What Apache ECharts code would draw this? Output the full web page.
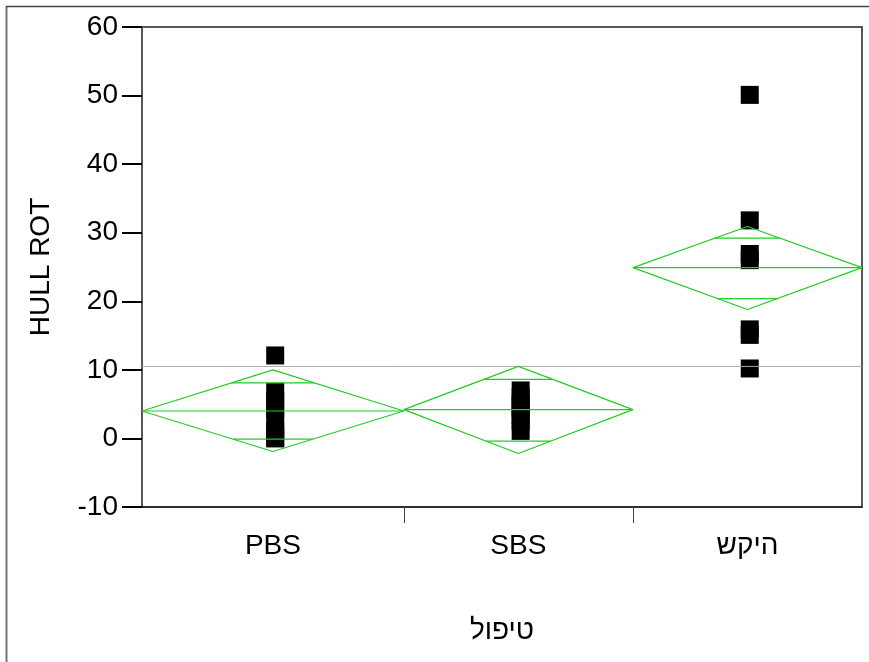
<!DOCTYPE html>
<html>
<head>
<meta charset="utf-8">
<title>HULL ROT</title>
<script src="https://cdn.jsdelivr.net/npm/echarts@6/dist/echarts.min.js"></script>
<style>
    * { margin: 0; padding: 0; }
    body { background: #fff; }
    #chart { width: 869px; height: 662px; }
</style>
</head>
<body>
<div id="chart"></div>
<script>
    // groups and sample counts (widths of the diamonds follow n)
    var groups = ['PBS', 'SBS', 'היקש'];
    var counts = [8, 7, 7];

    // raw points per group
    var valsPBS = [12.1, 6.8, 5.5, 4.3, 2.6, 1.0, 0.2, 0.0];
    var valsSBS = [7.0, 6.0, 5.0, 4.5, 3.5, 2.5, 1.1];
    var valsHikesh = [50.1, 31.8, 26.9, 26.0, 15.9, 15.1, 10.2];

    // means diamonds
    var means = [4.0, 4.2, 24.9];
    var ciHi = [10.0, 10.5, 30.9];
    var ciLo = [-1.9, -2.2, 18.8];
    var overlapHi = [8.1, 8.6, 29.2];
    var overlapLo = [-0.1, -0.4, 20.4];
    var grandMean = 10.5;

    var yTicks = [-10, 0, 10, 20, 30, 40, 50, 60];

    var green = '#22cc22';

    // group bounds on the x scale from counts
    var starts = [], ends = [], centers = [];
    var acc = 0;
    counts.forEach(function (n) {
        starts.push(acc);
        ends.push(acc + n);
        centers.push(acc + n / 2);
        acc += n;
    });
    var total = acc;

    var series = [];

    // grand mean line
    series.push({
        type: 'line', symbol: 'none', silent: true,
        lineStyle: { color: '#aaaaaa', width: 1 },
        data: [[0, grandMean], [total, grandMean]]
    });

    groups.forEach(function (g, i) {
        var x0 = starts[i], x1 = ends[i], xc = centers[i], half = (x1 - x0) / 2;
        // diamond outline
        series.push({
            type: 'line', symbol: 'none', silent: true,
            lineStyle: { color: green, width: 1.2 },
            data: [[x0, means[i]], [xc, ciHi[i]], [x1, means[i]], [xc, ciLo[i]], [x0, means[i]]]
        });
        // mean line
        series.push({
            type: 'line', symbol: 'none', silent: true,
            lineStyle: { color: green, width: 1.2 },
            data: [[x0, means[i]], [x1, means[i]]]
        });
        // overlap marks: chords of the diamond
        var fHi = (ciHi[i] - overlapHi[i]) / (ciHi[i] - means[i]) * half;
        var fLo = (overlapLo[i] - ciLo[i]) / (means[i] - ciLo[i]) * half;
        series.push({
            type: 'line', symbol: 'none', silent: true,
            lineStyle: { color: green, width: 1.2 },
            data: [[xc - fHi, overlapHi[i]], [xc + fHi, overlapHi[i]]]
        });
        series.push({
            type: 'line', symbol: 'none', silent: true,
            lineStyle: { color: green, width: 1.2 },
            data: [[xc - fLo, overlapLo[i]], [xc + fLo, overlapLo[i]]]
        });
    });

    // points
    [valsPBS, valsSBS, valsHikesh].forEach(function (vals, i) {
        series.push({
            type: 'scatter',
            symbol: 'rect',
            symbolSize: 18,
            itemStyle: { color: '#000', opacity: 1 },
            data: vals.map(function (v) { return [centers[i] + 0.07, v]; })
        });
    });

    var option = {
        backgroundColor: '#fff',
        animation: false,
        textStyle: { fontFamily: 'Liberation Sans, Arial, DejaVu Sans, sans-serif' },
        graphic: [
            { type: 'line', shape: { x1: 6.5, y1: 6, x2: 6.5, y2: 662 }, style: { stroke: '#777', lineWidth: 2 } },
            { type: 'line', shape: { x1: 6, y1: 6.5, x2: 869, y2: 6.5 }, style: { stroke: '#444', lineWidth: 1.5 } }
        ],
        grid: {
            left: 142, right: 7, top: 27, bottom: 155,
            show: true, borderColor: '#222', borderWidth: 1.5, backgroundColor: 'transparent'
        },
        xAxis: {
            type: 'value',
            min: 0, max: total,
            name: 'טיפול',
            nameLocation: 'middle',
            nameGap: 110,
            nameTextStyle: { fontSize: 28, color: '#000' },
            splitLine: { show: false },
            axisLine: { show: true, onZero: false, lineStyle: { color: '#222', width: 1.5 } },
            axisTick: {
                show: true, length: 16, inside: false,
                customValues: [ends[0], ends[1]],
                lineStyle: { color: '#444', width: 1 }
            },
            axisLabel: {
                show: true, fontSize: 28, color: '#000', margin: 25,
                customValues: centers,
                formatter: function (v) {
                    for (var k = 0; k < centers.length; k++) {
                        if (Math.abs(centers[k] - v) < 1e-6) return groups[k];
                    }
                    return '';
                }
            }
        },
        yAxis: {
            type: 'value',
            min: -10, max: 60, interval: 10,
            name: 'HULL ROT',
            nameLocation: 'middle',
            nameRotate: 90,
            nameGap: 87,
            nameTextStyle: { fontSize: 28, color: '#000' },
            splitLine: { show: false },
            axisLine: { show: true, lineStyle: { color: '#555', width: 1 } },
            axisTick: { show: true, length: 20, inside: false, lineStyle: { color: '#000', width: 2 } },
            axisLabel: {
                fontSize: 28, color: '#000', margin: 24,
                formatter: function (v) { return yTicks.indexOf(v) >= 0 ? String(v) : ''; }
            }
        },
        series: series
    };

    var myChart = echarts.init(document.getElementById('chart'));
    myChart.setOption(option);
</script>
</body>
</html>
